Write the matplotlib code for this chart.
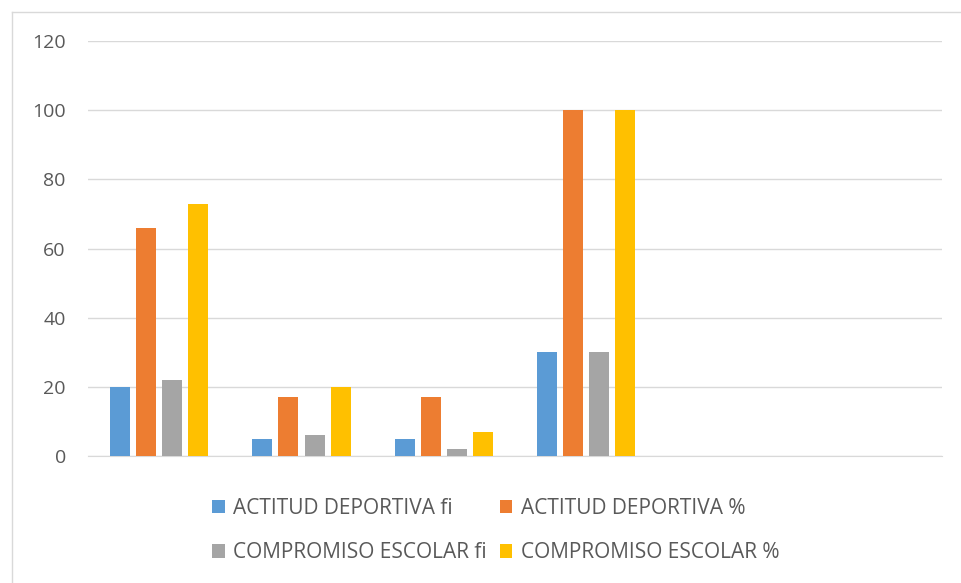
import numpy as np
import matplotlib
matplotlib.use('Agg')
import matplotlib.pyplot as plt
from matplotlib.lines import Line2D

# - Data -----------------------------------------------------------------------
categories = ['', '', '', '', '', '']
actitud_fi = [20, 5, 5, 30, np.nan, np.nan]
actitud_pct = [66, 17, 17, 100, np.nan, np.nan]
compromiso_fi = [22, 6, 2, 30, np.nan, np.nan]
compromiso_pct = [73, 20, 7, 100, np.nan, np.nan]
series_names = ['ACTITUD DEPORTIVA fi', 'ACTITUD DEPORTIVA %',
                'COMPROMISO ESCOLAR fi', 'COMPROMISO ESCOLAR %']
y_ticks = [0, 20, 40, 60, 80, 100, 120]
# ------------------------------------------------------------------------------

plt.rcParams['font.family'] = ['Open Sans', 'DejaVu Sans']
colors = ['#5B9BD5', '#ED7D31', '#A5A5A5', '#FFC000']
series = [actitud_fi, actitud_pct, compromiso_fi, compromiso_pct]

W, H = 961, 583
fig = plt.figure(figsize=(W / 100, H / 100), dpi=100)
ax = fig.add_axes([88 / W, 127 / H, 854 / W, 415 / H])

x = np.arange(len(categories))
width = 0.1405
step = 0.1827
handles = []
for i, (vals, name, col) in enumerate(zip(series, series_names, colors)):
    b = ax.bar(x + (i - 1.5) * step, vals, width=width, color=col, label=name, zorder=3)
    handles.append(b)

ax.set_xlim(-0.5, len(categories) - 0.5)
ax.set_ylim(0, 120)
ax.set_yticks(y_ticks)
ax.set_yticklabels([str(v) for v in y_ticks], color='#595959', fontsize=14)
ax.set_xticks([])
ax.tick_params(axis='y', length=0, pad=16)
ax.grid(axis='y', color='#D9D9D9', linewidth=1, zorder=0)
for side in ['left', 'right', 'top']:
    ax.spines[side].set_visible(False)
ax.spines['bottom'].set_color('#D9D9D9')

# legend filled row by row: matplotlib fills column-wise, so reorder
order = [0, 2, 1, 3]
fig.legend([handles[k] for k in order], [series_names[k] for k in order],
           loc='center', bbox_to_anchor=(495.5 / W, 1 - 530.5 / H), ncol=2,
           frameon=False, fontsize=15, labelcolor='#595959',
           handlelength=0.62, handleheight=0.62, handletextpad=0.4,
           columnspacing=0.62, labelspacing=1.12)

# outer chart border (only top and left edges visible in the original)
fig.add_artist(Line2D([12 / W, 12 / W], [0, 1 - 12 / H], transform=fig.transFigure,
                      color='#D9D9D9', linewidth=1))
fig.add_artist(Line2D([12 / W, 1], [1 - 12 / H, 1 - 12 / H], transform=fig.transFigure,
                      color='#D9D9D9', linewidth=1))

fig.savefig('out.png', dpi=100)
